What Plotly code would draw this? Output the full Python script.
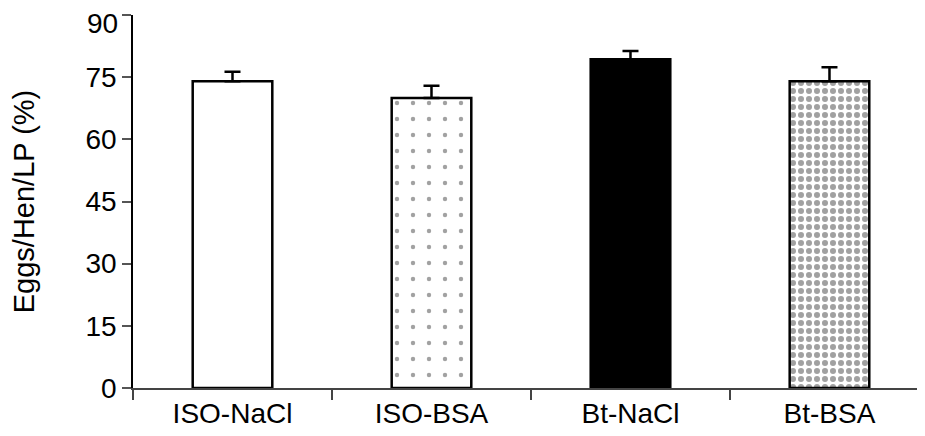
import plotly.graph_objects as go

categories = ["ISO-NaCl", "ISO-BSA", "Bt-NaCl", "Bt-BSA"]
values = [74.0, 70.0, 79.3, 74.0]
errors = [2.3, 2.9, 2.0, 3.4]
y_ticks = [0, 15, 30, 45, 60, 75, 90]
y_tick_labels = ["0", "15", "30", "45", "60", "75", "90"]

fills = ["white", "white", "black", "white"]
pat_shapes = ["", ".", "", "."]
pat_sizes = [8, 16, 8, 8]
pat_solid = [0.2, 0.06, 0.2, 0.45]

fig = go.Figure()
fig.add_trace(go.Bar(
    x=categories,
    y=values,
    width=0.4,
    marker=dict(
        color=fills,
        line=dict(color="black", width=2.5),
        pattern=dict(shape=pat_shapes, size=pat_sizes, solidity=pat_solid,
                     fgcolor="black", bgcolor="white", fillmode="overlay"),
    ),
    error_y=dict(type="data", array=errors, arrayminus=[0] * 4, symmetric=False,
                 color="black", thickness=2.5, width=8),
    showlegend=False,
))

font_family = "Arial, Liberation Sans, sans-serif"
fig.update_layout(
    width=917, height=428,
    margin=dict(l=125, r=0, t=7, b=48),
    paper_bgcolor="white", plot_bgcolor="white",
    font=dict(family=font_family, size=28, color="black"),
)
# the top tick label sits slightly below its tick (as in the reference) so it stays inside the page
fig.add_annotation(
    xref="paper", yref="y", x=0, y=y_ticks[-1],
    text=y_tick_labels[-1], showarrow=False,
    xanchor="right", yanchor="middle", xshift=-13, yshift=-8,
    font=dict(size=28, color="black"),
)
fig.update_xaxes(
    type="category",
    range=[-0.5, 3.48],
    automargin=False,
    showline=True, linecolor="#444", linewidth=1.5,
    tickson="boundaries", ticks="outside", ticklen=10, tickcolor="#444", tickwidth=1.5,
    tickfont=dict(size=28),
    showgrid=False, zeroline=False,
)
fig.update_yaxes(
    range=[0, 90],
    tickvals=y_ticks,
    ticktext=y_tick_labels[:-1] + [""],
    automargin=False,
    showline=True, linecolor="black", linewidth=1.5,
    ticks="outside", ticklen=9, tickcolor="#555", tickwidth=1.5,
    tickfont=dict(size=28),
    showgrid=False, zeroline=False,
    title=dict(text="Eggs/Hen/LP (%)", font=dict(size=29), standoff=48),
)

fig.write_html("out.html")
